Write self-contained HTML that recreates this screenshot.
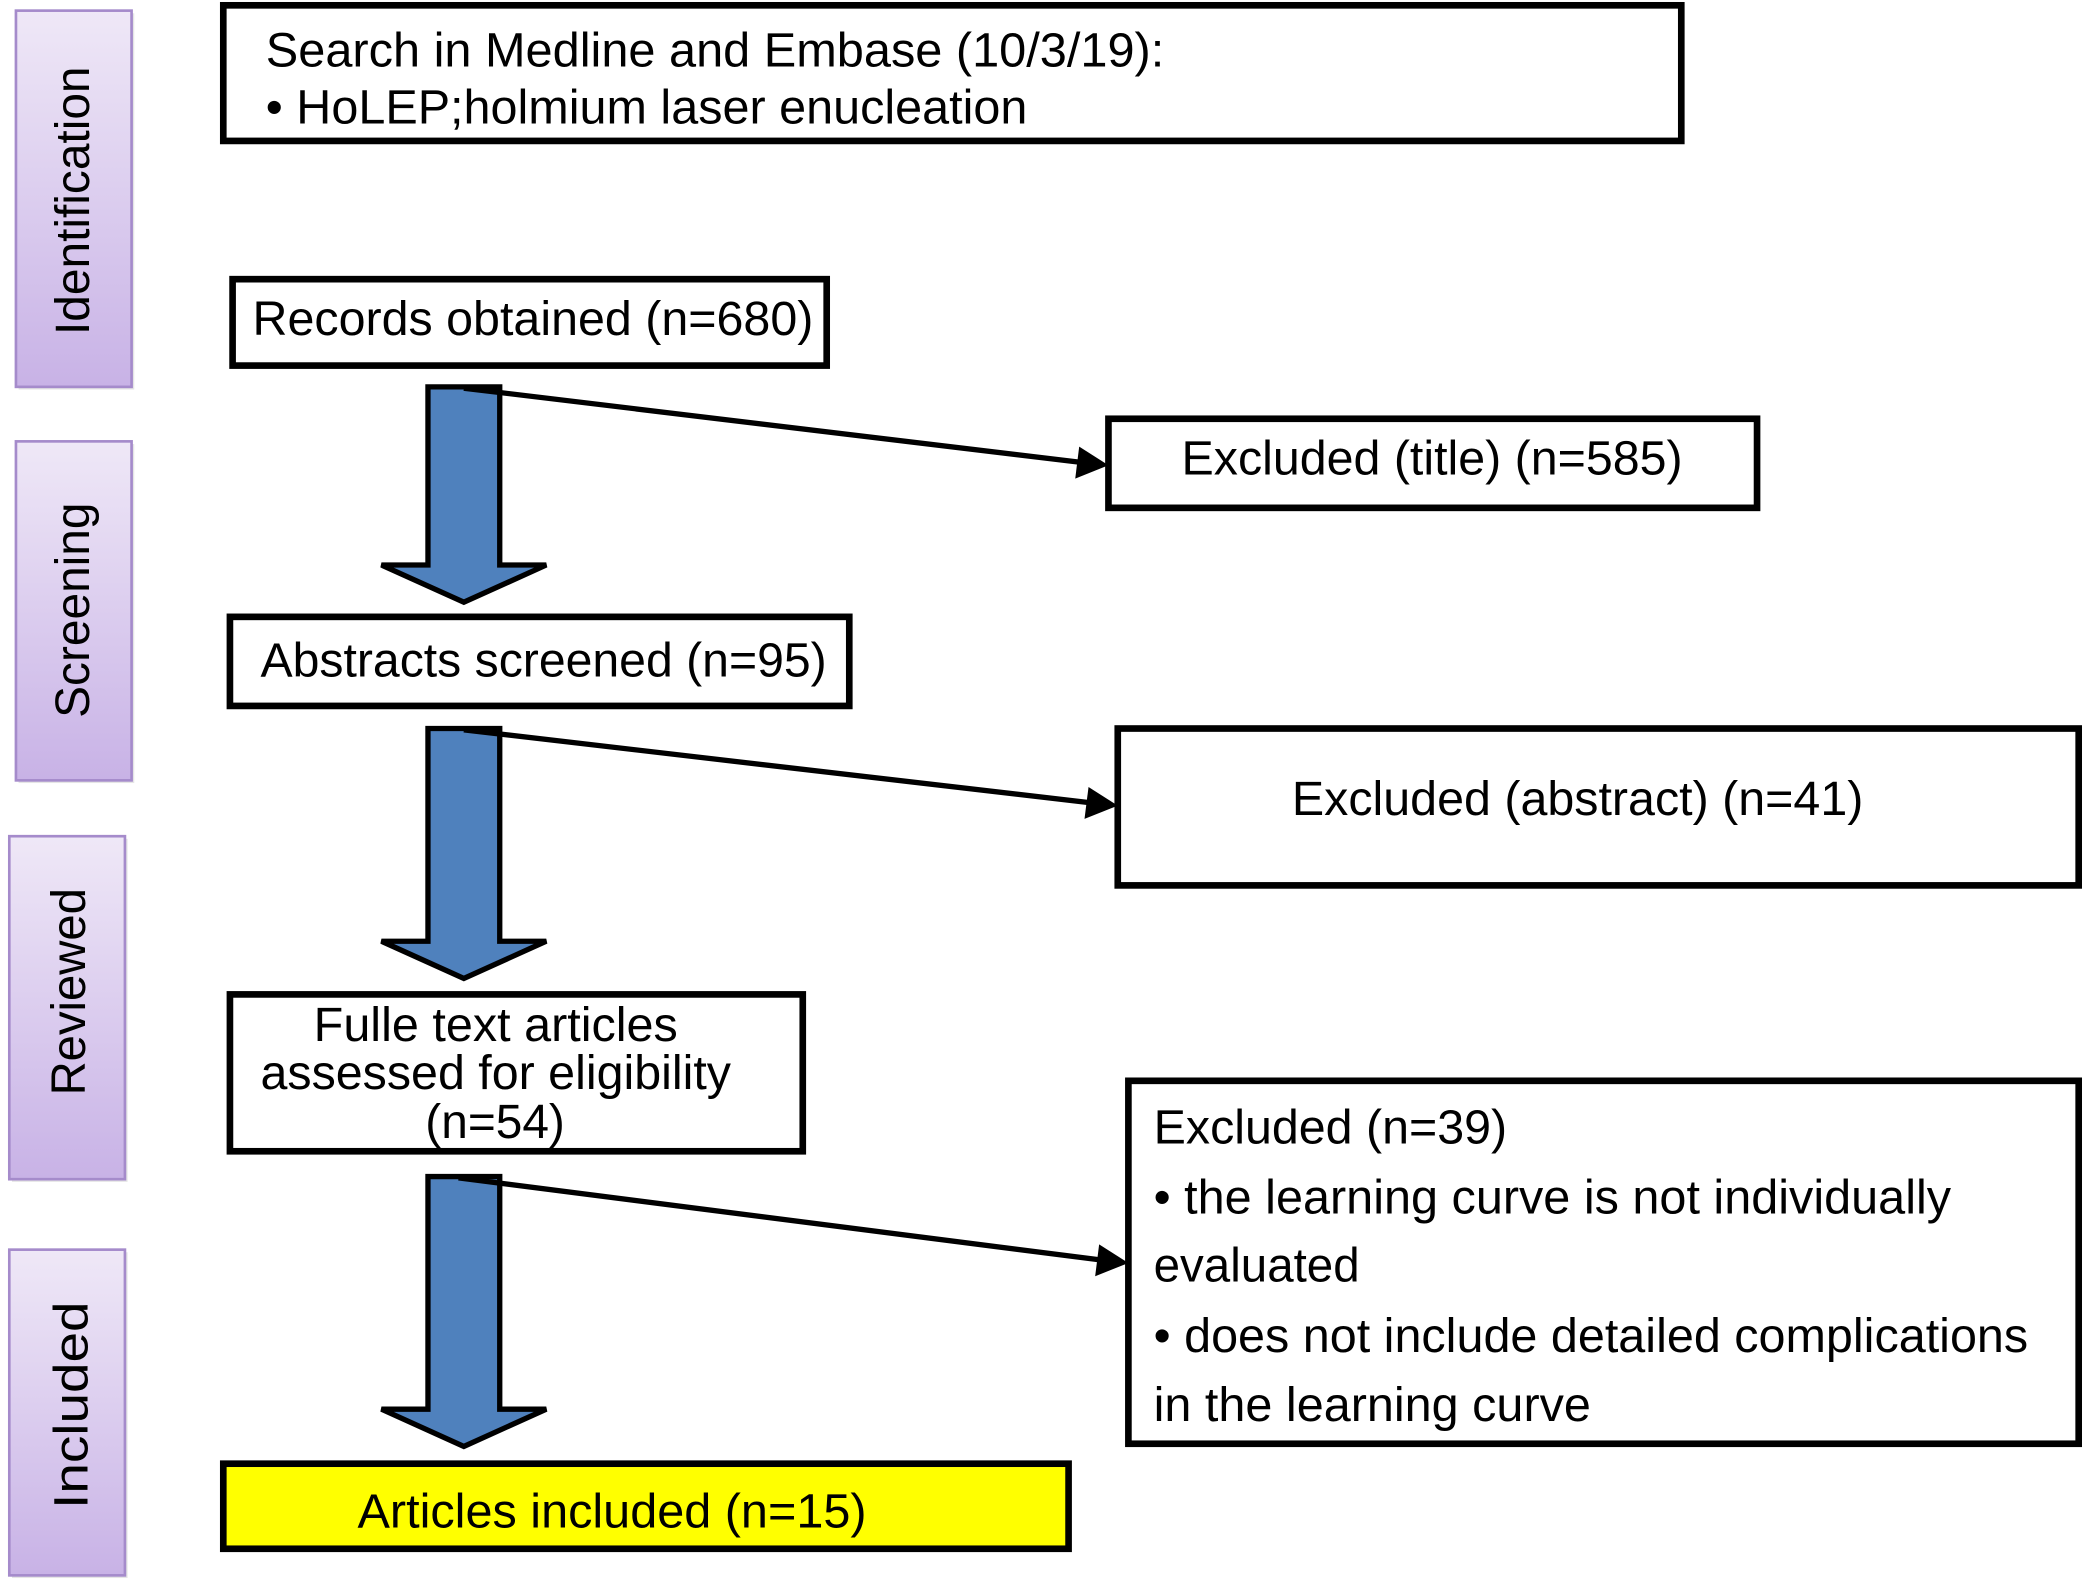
<!DOCTYPE html>
<html><head><meta charset="utf-8"><style>
html,body{margin:0;padding:0;background:#fff;}
svg{display:block;}
text{font-family:"Liberation Sans",Arial,sans-serif;fill:#000;}
</style></head><body>
<svg width="2084" height="1586" viewBox="0 0 1568 1193" preserveAspectRatio="none" xmlns="http://www.w3.org/2000/svg">
<defs>
<linearGradient id="pg" x1="0" y1="0" x2="0" y2="1">
<stop offset="0" stop-color="#efe8f7"/><stop offset="1" stop-color="#c8b2e6"/>
</linearGradient>
<marker id="ah" markerWidth="8" markerHeight="8" refX="7" refY="4" orient="auto" markerUnits="userSpaceOnUse" viewBox="0 0 8 8">
</marker>
</defs>
<!-- side boxes -->
<g stroke="#a58bcb" stroke-width="2" fill="url(#pg)">
<rect x="14" y="10" width="87" height="283" fill="#ccc" stroke="none" opacity="0.5"/>
<rect x="12" y="8" width="87" height="283"/>
<rect x="14" y="334" width="87" height="255" fill="#ccc" stroke="none" opacity="0.5"/>
<rect x="12" y="332" width="87" height="255"/>
<rect x="9" y="631" width="87" height="258" fill="#ccc" stroke="none" opacity="0.5"/>
<rect x="7" y="629" width="87" height="258"/>
<rect x="9" y="942" width="87" height="245" fill="#ccc" stroke="none" opacity="0.5"/>
<rect x="7" y="940" width="87" height="245"/>
</g>
<g font-size="36">
<text transform="translate(67,151) rotate(-90)" text-anchor="middle" textLength="202" lengthAdjust="spacingAndGlyphs">Identification</text>
<text transform="translate(67,459) rotate(-90)" text-anchor="middle" textLength="162" lengthAdjust="spacingAndGlyphs">Screening</text>
<text transform="translate(64,746) rotate(-90)" text-anchor="middle" textLength="156" lengthAdjust="spacingAndGlyphs">Reviewed</text>
<text transform="translate(66,1057) rotate(-90)" text-anchor="middle" textLength="156" lengthAdjust="spacingAndGlyphs">Included</text>
</g>
<!-- boxes -->
<g stroke="#000" stroke-width="5" fill="#fff">
<rect x="168" y="4" width="1097" height="102"/>
<rect x="175" y="210" width="447" height="65"/>
<rect x="834" y="315" width="488" height="67"/>
<rect x="173" y="464" width="466" height="67"/>
<rect x="841" y="548" width="723" height="118"/>
<rect x="173" y="748" width="431" height="118"/>
<rect x="849" y="813" width="715" height="273"/>
<rect x="168" y="1101" width="636" height="64" fill="#ffff00"/>
</g>
<!-- blue arrows -->
<g fill="#4f81bd" stroke="#000" stroke-width="4" stroke-linejoin="miter">
<path d="M322,291 L376,291 L376,425 L411,425 L349,453 L287,425 L322,425 Z"/>
<path d="M322,548 L376,548 L376,708 L411,708 L349,736 L287,708 L322,708 Z"/>
<path d="M322,885 L376,885 L376,1060 L411,1060 L349,1088 L287,1060 L322,1060 Z"/>
</g>
<!-- thin arrows -->
<g stroke="#000" stroke-width="4">
<line x1="349" y1="292" x2="815" y2="348"/>
<line x1="349" y1="549" x2="822" y2="604"/>
<line x1="345" y1="886" x2="830" y2="948"/>
</g>
<g fill="#000">
<path d="M834,350 L812,336 L809,360 Z"/>
<path d="M841,606 L819,592 L816,616 Z"/>
<path d="M849,950 L827,936 L824,960 Z"/>
</g>
<!-- text -->
<g font-size="36">
<text x="200" y="50" textLength="676" lengthAdjust="spacingAndGlyphs">Search in Medline and Embase (10/3/19):</text>
<text x="200" y="93" textLength="573" lengthAdjust="spacingAndGlyphs">• HoLEP;holmium laser enucleation</text>
<text x="190" y="252" textLength="422" lengthAdjust="spacingAndGlyphs">Records obtained (n=680)</text>
<text x="889" y="357" textLength="377" lengthAdjust="spacingAndGlyphs">Excluded (title) (n=585)</text>
<text x="196" y="509" textLength="426" lengthAdjust="spacingAndGlyphs">Abstracts screened (n=95)</text>
<text x="972" y="613" textLength="430" lengthAdjust="spacingAndGlyphs">Excluded (abstract) (n=41)</text>
<text x="236" y="783" textLength="274" lengthAdjust="spacingAndGlyphs">Fulle text articles</text>
<text x="196" y="819" textLength="354" lengthAdjust="spacingAndGlyphs">assessed for eligibility</text>
<text x="320" y="856" textLength="105" lengthAdjust="spacingAndGlyphs">(n=54)</text>
<text x="868" y="860" textLength="266" lengthAdjust="spacingAndGlyphs">Excluded (n=39)</text>
<text x="868" y="913" textLength="600" lengthAdjust="spacingAndGlyphs">• the learning curve is not individually</text>
<text x="868" y="964" textLength="155" lengthAdjust="spacingAndGlyphs">evaluated</text>
<text x="868" y="1017" textLength="658" lengthAdjust="spacingAndGlyphs">• does not include detailed complications</text>
<text x="868" y="1069" textLength="329" lengthAdjust="spacingAndGlyphs">in the learning curve</text>
<text x="269" y="1149" textLength="383" lengthAdjust="spacingAndGlyphs">Articles included (n=15)</text>
</g>
</svg>
</body></html>
